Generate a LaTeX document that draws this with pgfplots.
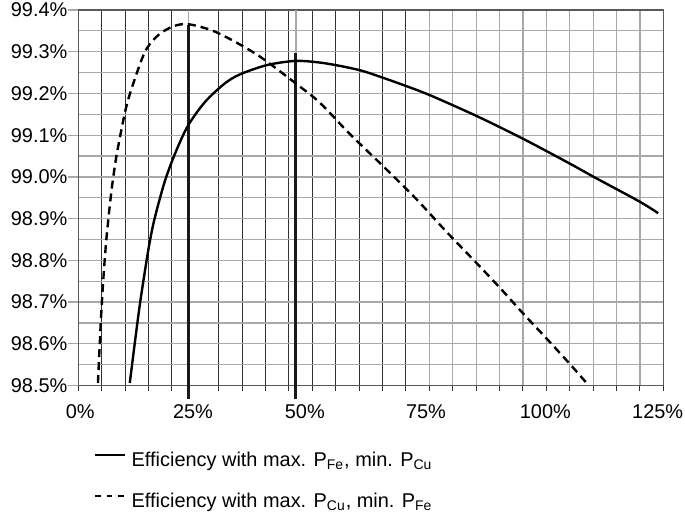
\documentclass[border=0pt]{standalone}
\usepackage{fontspec}
\setmainfont{Liberation Sans}
\usepackage{pgfplots}
\pgfplotsset{compat=1.18}
\definecolor{gridgray}{HTML}{A8A8A8}
\definecolor{griddark}{HTML}{303030}
\begin{document}
\begin{tikzpicture}
\begin{axis}[
  scale only axis, width=292.5bp, height=187.75bp,
  xmin=0, xmax=125, ymin=98.5, ymax=99.4,
  clip=false,
  axis line style={draw=gray!70!black, line width=0.6bp},
  tick align=outside,
  xtick pos=bottom, ytick pos=left,
  xtick={0,5,10,15,20,30,35,40,45,50,55,60,65,70},
  xticklabels={{},{},{},{},{},{},{},{},{},{},{},{},{},{}},
  minor xtick={75,80,...,125},
  extra x ticks={0.4,24.5,48.4,74.3,99.8,123.8},
  extra x tick labels={0\%,25\%,50\%,75\%,100\%,125\%},
  extra x tick style={grid=none, xtick style={/pgfplots/major tick length=0pt, draw=none}},
  xtick style={/pgfplots/major tick length=2.5bp, /pgfplots/minor tick length=2.5bp, line width=0.5bp, draw=griddark},
  ytick={98.5,98.6,98.7,98.8,98.9,99.0,99.1,99.2,99.3,99.4},
  yticklabels={98.5\%,98.6\%,98.7\%,98.8\%,98.9\%,99.0\%,99.1\%,99.2\%,99.3\%,99.4\%},
  minor ytick={98.55,98.65,98.75,98.85,98.95,99.05,99.15,99.25,99.35},
  ytick style={/pgfplots/major tick length=5bp, /pgfplots/minor tick length=0pt, draw=gridgray, line width=0.6bp},
  grid=both,
  major x grid style={draw=griddark, line width=0.5bp},
  minor x grid style={draw=gridgray, line width=0.6bp},
  major y grid style={draw=gridgray, line width=0.6bp},
  minor y grid style={draw=gridgray, line width=0.6bp},
  xticklabel style={inner sep=0pt, yshift=-5bp},
  yticklabel style={inner sep=0pt, xshift=-1bp},
  legend style={at={(axis description cs:0,0)}, anchor=north west, xshift=7.85bp, yshift=-33.1bp,
    draw=none, fill=none, inner sep=0pt, outer sep=0pt, column sep=3bp, row sep=10bp,
    nodes={inner sep=0pt, text height=7.5bp, text depth=3bp}},
  legend cell align=left,
]
\addplot[forget plot, gridgray, line width=0.6bp] coordinates {(23.5,98.5) (23.5,99.4)};
\addplot[forget plot, gridgray, line width=0.6bp] coordinates {(46.5,98.5) (46.5,99.4)};
\addplot[forget plot, black!90, line width=1.5bp] coordinates {(23.5,98.468) (23.5,99.364)};
\addplot[forget plot, black!90, line width=1.5bp] coordinates {(46.5,98.468) (46.5,99.298)};
\addplot[black, line width=1.2bp, smooth, tension=0.5,
  legend image code/.code={\draw[black, line width=1.2bp] (0bp,3.6bp) -- (14.65bp,3.6bp);}]
  coordinates {
  (11.0,98.506) (12.05,98.600) (13.1,98.690) (14.2,98.772) (15.2,98.840) (16.3,98.900)
  (18.5,98.990) (20.9,99.062) (23.5,99.124) (27.1,99.180) (31.3,99.224) (34.6,99.246)
  (40.3,99.268) (46.3,99.278) (50.9,99.275) (55.0,99.268) (60.4,99.255) (65.0,99.238)
  (70.0,99.218) (75.1,99.196) (85.1,99.146) (95.1,99.091) (105.0,99.032) (110.8,98.996)
  (119.9,98.941) (123.9,98.913)};
\addlegendentry{Efficiency with max. P\textsubscript{Fe}, min. P\textsubscript{Cu}}
\addplot[black, line width=1.2bp, dash pattern=on 4bp off 2.5bp, smooth, tension=0.5,
  legend image code/.code={\draw[black, line width=1.2bp, dash pattern=on 2.85bp off 2.8bp] (0bp,3.6bp) -- (14.65bp,3.6bp);}]
  coordinates {
  (4.2,98.506) (4.8,98.650) (5.3,98.747) (6.0,98.851) (7.05,98.963) (8.15,99.050)
  (10.0,99.156) (11.4,99.212) (14.25,99.300) (17.1,99.340) (20.3,99.361) (23.5,99.366)
  (28.8,99.350) (34.6,99.317) (39.5,99.283) (46.7,99.222) (51.6,99.178) (58.0,99.103)
  (65.2,99.025) (72.3,98.946) (78.7,98.868) (84.8,98.797) (90.1,98.734) (95.1,98.672)
  (100.1,98.612) (105.0,98.552) (108.6,98.506)};
\addlegendentry{Efficiency with max. P\textsubscript{Cu}, min. P\textsubscript{Fe}}
\end{axis}
\pgfresetboundingbox
\path (-39.15bp,-66.25bp) rectangle (303.35bp,192.75bp);
\end{tikzpicture}
\end{document}
